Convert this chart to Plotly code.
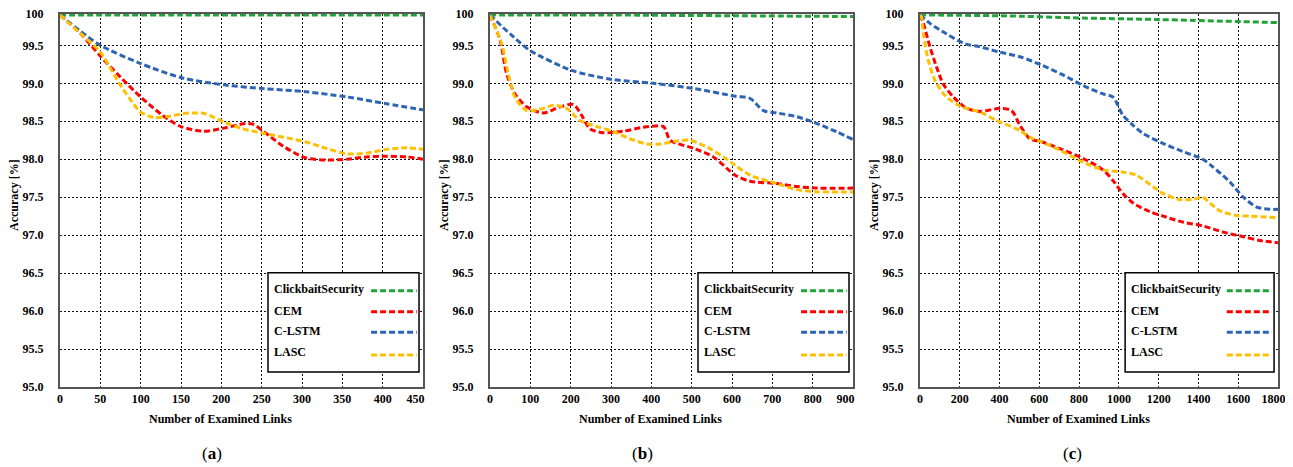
import plotly.graph_objects as go

# ---------------- data ----------------
SERIES = ["ClickbaitSecurity", "CEM", "C-LSTM", "LASC"]
COLORS = ["#22A33A", "#FF0000", "#2E64B4", "#FFC000"]

# panel (a)
A_X_GREEN = [0, 150, 300, 450]
A_GREEN = [99.9, 99.9, 99.9, 99.9]
A_X_CEM = [0, 25, 50, 75, 100, 127, 150, 178, 203, 230, 240, 253, 277, 304, 331, 356, 380, 405, 430, 450]
A_CEM = [99.9, 99.66, 99.36, 99.08, 98.82, 98.58, 98.43, 98.37, 98.41, 98.47, 98.46, 98.36, 98.17, 98.02,
         97.99, 98.0, 98.03, 98.04, 98.03, 98.0]
A_X_CLSTM = [0, 25, 50, 100, 152, 203, 253, 304, 356, 405, 450]
A_CLSTM = [99.9, 99.69, 99.5, 99.26, 99.07, 98.98, 98.93, 98.89, 98.82, 98.73, 98.65]
A_X_LASC = [0, 25, 50, 74, 91, 100, 116, 132, 152, 165, 180, 203, 227, 253, 277, 304, 331, 356, 380, 405, 430, 450]
A_LASC = [99.9, 99.66, 99.41, 98.99, 98.73, 98.62, 98.55, 98.56, 98.6, 98.61, 98.6, 98.49, 98.4, 98.34,
          98.29, 98.23, 98.14, 98.07, 98.08, 98.13, 98.15, 98.13]

# panel (b)
B_X_GREEN = [0, 300, 600, 900]
B_GREEN = [99.9, 99.9, 99.89, 99.88]
B_X_CEM = [0, 25, 41, 62, 91, 132, 174, 207, 227, 248, 281, 331, 380, 430, 447, 507, 554, 608, 645, 711,
           761, 811, 900]
B_CEM = [99.9, 99.57, 99.13, 98.86, 98.69, 98.61, 98.69, 98.72, 98.58, 98.4, 98.35, 98.37, 98.42, 98.43,
         98.25, 98.14, 98.03, 97.79, 97.71, 97.68, 97.64, 97.62, 97.62]
B_X_CLSTM = [0, 50, 100, 203, 304, 405, 507, 608, 645, 678, 711, 761, 811, 860, 900]
B_CLSTM = [99.9, 99.65, 99.43, 99.17, 99.05, 99.0, 98.93, 98.83, 98.8, 98.64, 98.61, 98.56, 98.47, 98.36, 98.26]
B_X_LASC = [0, 29, 45, 62, 91, 132, 157, 190, 223, 265, 304, 347, 389, 422, 463, 496, 538, 579, 608, 645,
            711, 761, 811, 900]
B_LASC = [99.9, 99.52, 99.13, 98.82, 98.64, 98.67, 98.71, 98.67, 98.51, 98.43, 98.37, 98.27, 98.2, 98.2,
          98.24, 98.25, 98.16, 98.03, 97.92, 97.79, 97.68, 97.6, 97.57, 97.57]

# panel (c)
C_X_GREEN = [0, 400, 820, 1200, 1800]
C_GREEN = [99.9, 99.89, 99.86, 99.84, 99.8]
C_X_CEM = [0, 17, 50, 84, 117, 168, 235, 302, 403, 460, 502, 552, 611, 703, 820, 920, 970, 1020, 1073,
           1156, 1223, 1324, 1425, 1525, 1626, 1709, 1800]
C_CEM = [99.9, 99.79, 99.48, 99.21, 98.99, 98.82, 98.67, 98.63, 98.67, 98.64, 98.45, 98.27, 98.23, 98.14,
         98.01, 97.86, 97.72, 97.55, 97.42, 97.31, 97.25, 97.17, 97.12, 97.04, 96.98, 96.93, 96.9]
C_X_CLSTM = [0, 50, 134, 226, 302, 401, 502, 611, 719, 820, 920, 970, 1020, 1070, 1121, 1221, 1322, 1422,
             1472, 1558, 1626, 1693, 1760, 1800]
C_CLSTM = [99.9, 99.79, 99.65, 99.52, 99.48, 99.41, 99.35, 99.24, 99.11, 98.97, 98.86, 98.82, 98.58, 98.45,
           98.34, 98.21, 98.1, 98.0, 97.9, 97.7, 97.5, 97.37, 97.34, 97.34]
C_X_LASC = [0, 8, 17, 42, 75, 126, 201, 302, 386, 502, 552, 611, 703, 820, 920, 1020, 1087, 1171, 1221,
            1305, 1372, 1422, 1450, 1508, 1592, 1659, 1800]
C_LASC = [99.9, 99.87, 99.65, 99.3, 99.04, 98.84, 98.7, 98.62, 98.51, 98.38, 98.29, 98.23, 98.12, 97.96,
          97.86, 97.83, 97.79, 97.64, 97.55, 97.47, 97.47, 97.5, 97.44, 97.32, 97.26, 97.25, 97.23]

PANELS = [
    {"label": "a", "xmax": 450, "step": 50, "pad": 5,
     "series": [(A_X_GREEN, A_GREEN), (A_X_CEM, A_CEM), (A_X_CLSTM, A_CLSTM), (A_X_LASC, A_LASC)]},
    {"label": "b", "xmax": 900, "step": 100, "pad": 5,
     "series": [(B_X_GREEN, B_GREEN), (B_X_CEM, B_CEM), (B_X_CLSTM, B_CLSTM), (B_X_LASC, B_LASC)]},
    {"label": "c", "xmax": 1800, "step": 200, "pad": 3,
     "series": [(C_X_GREEN, C_GREEN), (C_X_CEM, C_CEM), (C_X_CLSTM, C_CLSTM), (C_X_LASC, C_LASC)]},
]

Y_TOP_VALUE = 99.91
Y_TICKS = [95.0, 95.5, 96.0, 96.5, 97.0, 97.5, 98.0, 98.5, 99.0, 99.5, Y_TOP_VALUE]
Y_TICKTEXT = ["95.0", "95.5", "96.0", "96.5", "97.0", "97.5", "98.0", "98.5", "99.0", "99.5", "100"]
X_TITLE = "Number of Examined Links"
Y_TITLE = "Accuracy [%]"

# ---------------- layout (page pixels; page body has an 8px offset) ----------------
OFF = 8
W, H = 1293 - OFF, 467 - OFF


def px_x(v):
    return (v - OFF) / W


def px_y(v):
    return 1 - (v - OFF) / H


X_DOMAINS = [(60, 423), (490, 853), (920, 1278)]
Y_TOP, Y_BOT = 14, 387
XTITLE_CX = [220.5, 650.5, 1078.8]
YTITLE_CX = [14, 444, 874]
LABEL_CX = [212, 642, 1072]

FONT = "Liberation Serif"
DASH = "6px,3px"
NBSP = "\u00a0"

fig = go.Figure()
shapes, annotations = [], []

for i, p in enumerate(PANELS):
    sfx = "" if i == 0 else str(i + 1)
    xa, ya = "x" + sfx, "y" + sfx
    for (xs, ys), name, col in zip(p["series"], SERIES, COLORS):
        fig.add_trace(go.Scatter(x=xs, y=ys, mode="lines", name=name, showlegend=False,
                                 line=dict(color=col, width=3, dash=DASH, shape="spline", smoothing=0.8),
                                 xaxis=xa, yaxis=ya))
    x0, x1 = X_DOMAINS[i]
    axis_common = dict(showline=True, linecolor="#555555", linewidth=2, mirror=True,
                       showgrid=True, gridcolor="#111111", gridwidth=1, griddash="2px,2px",
                       zeroline=False, ticks="", automargin=False, ticklabeloverflow="allow",
                       tickfont=dict(family=FONT, size=12, color="black", weight=700))
    xt = list(range(0, p["xmax"] + 1, p["step"]))
    xtt = [str(v) for v in xt]
    xtt[-1] = xtt[-1] + NBSP * p["pad"]
    fig.layout["xaxis" + sfx] = dict(
        domain=[px_x(x0), px_x(x1)], range=[0, p["xmax"]], anchor=ya,
        tickvals=xt, ticktext=xtt, **axis_common)
    fig.layout["yaxis" + sfx] = dict(
        domain=[px_y(Y_BOT), px_y(Y_TOP)], range=[95, Y_TOP_VALUE + 0.003], anchor=xa,
        tickvals=Y_TICKS, ticktext=Y_TICKTEXT, ticklabelstandoff=12, **axis_common)

    # legend box (manual, symbols on right as in the original)
    xr, yr = xa + " domain", ya + " domain"
    shapes.append(dict(type="rect", xref=xr, yref=yr, x0=0.573, x1=0.989, y0=0.040, y1=0.306,
                       fillcolor="white", line=dict(color="black", width=1.5), layer="above"))
    text_y = [0.263, 0.204, 0.150, 0.094]
    line_y = [0.258, 0.202, 0.147, 0.086]
    for name, col, ty, ly in zip(SERIES, COLORS, text_y, line_y):
        annotations.append(dict(xref=xr, yref=yr, x=0.584, y=ty, text="<b>%s</b>" % name,
                                showarrow=False, xanchor="left", yanchor="middle",
                                font=dict(family=FONT, size=12, color="black")))
        shapes.append(dict(type="line", xref=xr, yref=yr, x0=0.857, x1=0.983, y0=ly, y1=ly,
                           line=dict(color=col, width=3, dash=DASH), layer="above"))

    annotations.append(dict(xref="paper", yref="paper", x=px_x(XTITLE_CX[i]), y=px_y(419),
                            text="<b>%s</b>" % X_TITLE, showarrow=False, xanchor="center", yanchor="middle",
                            font=dict(family=FONT, size=12, color="black")))
    annotations.append(dict(xref="paper", yref="paper", x=px_x(YTITLE_CX[i]), y=px_y(195),
                            text="<b>%s</b>" % Y_TITLE, showarrow=False, textangle=-90,
                            xanchor="center", yanchor="middle",
                            font=dict(family=FONT, size=12, color="black")))
    annotations.append(dict(xref="paper", yref="paper", x=px_x(LABEL_CX[i]), y=px_y(453),
                            text="(<b>%s</b>)" % p["label"], showarrow=False, xanchor="center",
                            yanchor="middle", font=dict(family=FONT, size=17, color="black")))

fig.update_layout(width=W, height=H, margin=dict(l=0, r=0, t=0, b=0, autoexpand=False),
                  paper_bgcolor="white", plot_bgcolor="white",
                  shapes=shapes, annotations=annotations, showlegend=False)

fig.write_html("out.html")
